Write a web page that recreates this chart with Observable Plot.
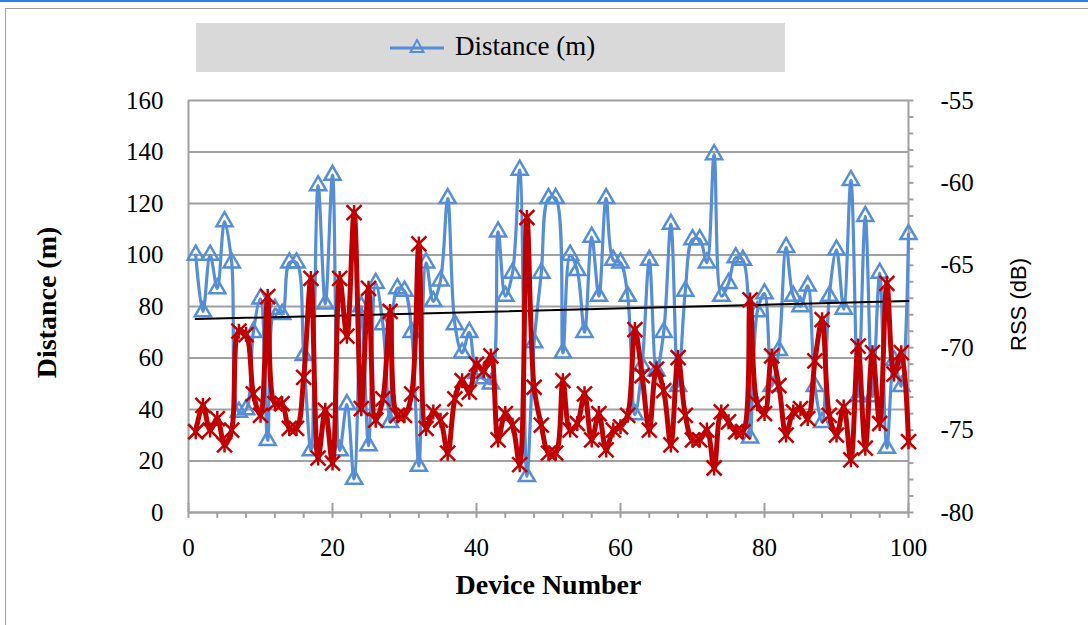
<!DOCTYPE html>
<html><head><meta charset="utf-8">
<script src="https://cdn.jsdelivr.net/npm/d3@7"></script>
<script src="https://cdn.jsdelivr.net/npm/@observablehq/plot@0.6"></script>
<style>
body{margin:0;width:1088px;height:625px;overflow:hidden;background:#fff;position:relative;font-family:"Liberation Serif",serif;}
#topline{position:absolute;left:0;top:0;width:1088px;height:2px;background:#2f7de1;}
#frame{position:absolute;left:5px;top:8px;width:1100px;height:700px;border:1px solid #a0a0a0;}
#legend{position:absolute;left:196px;top:23px;width:589px;height:49px;background:#d9d9d9;}
#legend svg{position:absolute;left:192px;top:12px;}
#legend span{position:absolute;left:259px;top:8px;font-size:27px;color:#000;white-space:nowrap;}
#chart{position:absolute;left:0;top:0;}
</style></head><body>
<div id="topline"></div>
<div id="frame"></div>
<div id="chart"></div>
<div id="legend">
  <svg width="58" height="26"><line x1="2" y1="13" x2="56" y2="13" stroke="#558ed5" stroke-width="3"/><path d="M29,5 L35.5,17 L22.5,17 Z" fill="none" stroke="#558ed5" stroke-width="2"/></svg>
  <span>Distance (m)</span>
</div>
<script>
const devices = [1,2,3,4,5,6,7,8,9,10,11,12,13,14,15,16,17,18,19,20,21,22,23,24,25,26,27,28,29,30,31,32,33,34,35,36,37,38,39,40,41,42,43,44,45,46,47,48,49,50,51,52,53,54,55,56,57,58,59,60,61,62,63,64,65,66,67,68,69,70,71,72,73,74,75,76,77,78,79,80,81,82,83,84,85,86,87,88,89,90,91,92,93,94,95,96,97,98,99,100];
const distance = [100,78,100,87,113,97,39,40,70,83,28,79,77,97,97,61,24,127,81,131,24,42,13,80,26,89,73,35,87,86,70,18,97,82,90,122,73,62,70,54,52,50,109,84,93,133,14,66,93,122,122,62,100,94,70,107,84,122,98,97,84,38,57,98,55,70,112,49,86,106,106,97,139,84,89,99,98,29,78,85,49,63,103,84,80,88,49,35,84,102,79,129,45,115,45,93,25,59,49,108];
const rss = [-75.1,-73.5,-75.0,-74.3,-75.9,-75.0,-69.0,-69.2,-72.8,-74.1,-66.9,-73.4,-73.4,-74.9,-74.9,-71.8,-65.8,-76.7,-73.8,-77.0,-65.8,-69.3,-61.8,-73.7,-66.4,-74.4,-73.1,-67.8,-74.1,-74.1,-72.8,-63.7,-74.9,-73.9,-74.4,-76.4,-73.1,-72.0,-72.7,-71.0,-71.4,-70.5,-75.6,-74.0,-74.7,-77.1,-62.1,-72.4,-74.7,-76.4,-76.4,-72.0,-75.0,-74.6,-72.8,-75.6,-74.0,-76.2,-75.0,-74.8,-74.1,-68.9,-71.7,-75.0,-71.3,-72.6,-75.9,-70.6,-74.1,-75.6,-75.6,-75.0,-77.3,-73.9,-74.5,-75.1,-75.1,-67.1,-73.4,-74.0,-70.5,-72.3,-75.3,-73.9,-73.7,-74.3,-70.8,-68.3,-74.1,-75.3,-73.6,-76.8,-69.9,-76.1,-70.3,-74.6,-66.1,-71.6,-70.3,-75.7];
const trendX = [1, 100];
const trendY = [75.1, 82.1];
const leftTicks = [0,20,40,60,80,100,120,140,160];
const rightTicks = [-80,-75,-70,-65,-60,-55];
const rightMinor = [-80,-79,-78,-77,-76,-75,-74,-73,-72,-71,-70,-69,-68,-67,-66,-65,-64,-63,-62,-61,-60,-59,-58,-57,-56,-55];
const xTicks = [0,20,40,60,80,100];
const xMinor = [4,8,12,16,24,28,32,36,44,48,52,56,64,68,72,76,84,88,92,96];

const toD = r => (r + 80) * 6.4;
const rows = devices.map((d, i) => ({device: d, distance: distance[i], rssD: toD(rss[i])}));
const trend = trendX.map((x, i) => ({x, y: trendY[i]}));
const star = {draw(ctx, size) {
  const r = Math.sqrt(size / Math.PI);
  ctx.moveTo(-r, -r); ctx.lineTo(r, r);
  ctx.moveTo(-r, r); ctx.lineTo(r, -r);
  ctx.moveTo(0, -r); ctx.lineTo(0, r);
}};
const grey = "#a0a0a0";
const chart = Plot.plot({
  width: 1088, height: 625,
  marginLeft: 188, marginRight: 180, marginTop: 100, marginBottom: 113,
  x: {domain: [0, 100]},
  y: {domain: [0, 160]},
  style: {fontFamily: "Liberation Serif", fontSize: "25px", color: "#000", background: "transparent", overflow: "visible"},
  marks: [
    Plot.gridY(leftTicks, {stroke: grey, strokeWidth: 2, strokeOpacity: 1}),
    Plot.ruleX([0], {stroke: grey, strokeWidth: 2}),
    Plot.ruleX([100], {stroke: grey, strokeWidth: 2}),
    Plot.ruleY([0], {stroke: grey, strokeWidth: 2}),
    Plot.ruleX(xTicks, {y1: -2.3, y2: 3.5, stroke: grey, strokeWidth: 2}),
    Plot.ruleX(xMinor, {y1: -2.3, y2: 0, stroke: grey, strokeWidth: 2}),
    Plot.ruleY(rightMinor.map(toD), {x1: 100, x2: 100.75, stroke: grey, strokeWidth: 2}),
    Plot.axisY(leftTicks, {anchor: "left", tickSize: 0, tickPadding: 25, label: null}),
    Plot.axisY(rightTicks.map(toD), {anchor: "right", tickSize: 0, tickPadding: 32, label: null,
      tickFormat: d => String(Math.round(d / 6.4 - 80))}),
    Plot.axisX(xTicks, {anchor: "bottom", tickSize: 0, tickPadding: 26, label: null}),
    Plot.line(rows, {x: "device", y: "distance", stroke: "#558ed5", strokeWidth: 3.2, curve: "catmull-rom"}),
    Plot.dot(rows, {x: "device", y: "distance", symbol: "triangle", r: 6, stroke: "#558ed5", strokeWidth: 2.5, fill: "none"}),
    Plot.line(trend, {x: "x", y: "y", stroke: "#000", strokeWidth: 2}),
    Plot.line(rows, {x: "device", y: "rssD", stroke: "#c00000", strokeWidth: 5, curve: "catmull-rom"}),
    Plot.dot(rows, {x: "device", y: "rssD", symbol: star, r: 7.5, stroke: "#c00000", strokeWidth: 2.5}),
    Plot.text(["Distance (m)"], {frameAnchor: "left", dx: -141, dy: -4, rotate: -90, textAnchor: "middle", fontWeight: "bold", fontSize: 28, fill: "#000"}),
    Plot.text(["RSS (dB)"], {frameAnchor: "right", dx: 110, dy: -2, rotate: -90, textAnchor: "middle", fontFamily: "Liberation Sans", fontSize: 22, fill: "#000"}),
    Plot.text(["Device Number"], {frameAnchor: "bottom", dy: 81, textAnchor: "middle", fontWeight: "bold", fontSize: 28, fill: "#000"})
  ]
});
document.getElementById("chart").appendChild(chart);
</script>
</body></html>
